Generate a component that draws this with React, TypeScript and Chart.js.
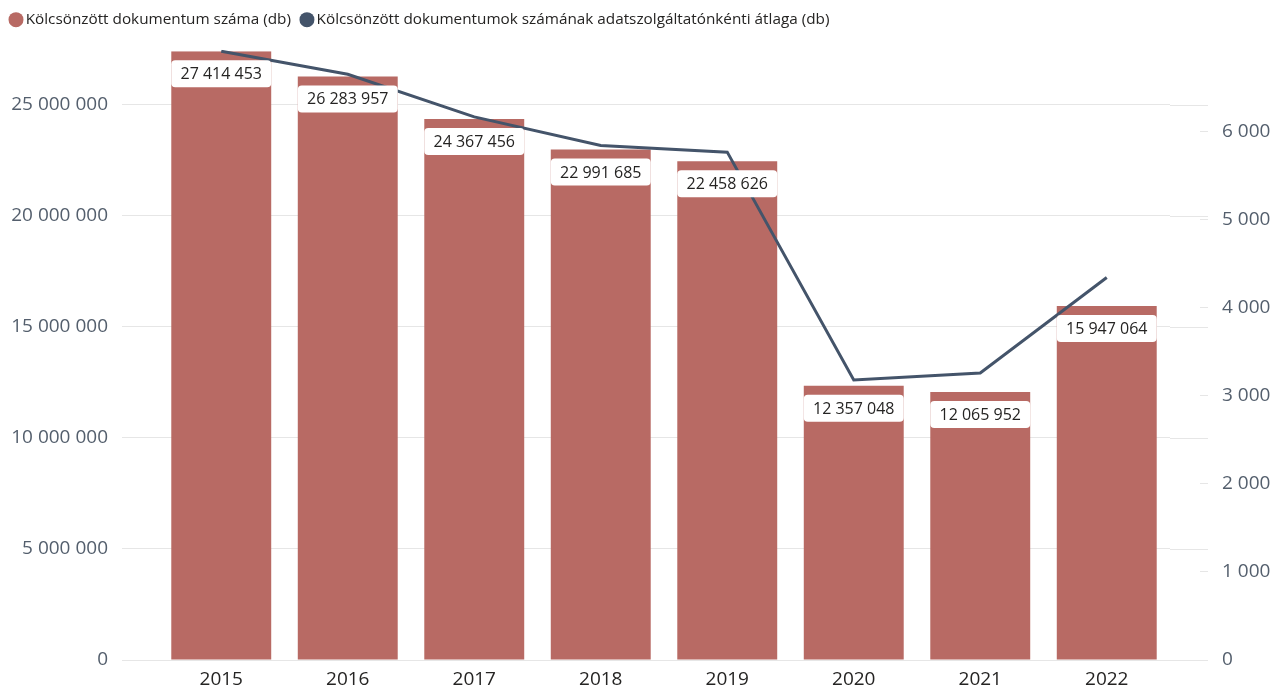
import React, { useEffect, useRef } from "react";
import { Chart, registerables } from "chart.js";

Chart.register(...registerables);

const years = ["2015", "2016", "2017", "2018", "2019", "2020", "2021", "2022"];
const loanedDocs = [27414453, 26283957, 24367456, 22991685, 22458626, 12357048, 12065952, 15947064];
const avgPerProvider = [6906, 6645, 6162, 5838, 5762, 3178, 3257, 4339];
const seriesNames = [
  "Kölcsönzött dokumentum száma (db)",
  "Kölcsönzött dokumentumok számának adatszolgáltatónkénti átlaga (db)",
];
const leftStep = 5000000;
const rightStep = 1000;

const FONT = "'Segoe UI', 'Open Sans', 'Noto Sans', sans-serif";
const BAR_COLOR = "#B86A64";
const LINE_COLOR = "#44546A";
const GRID_COLOR = "#E6E6E6";
const AXIS_TEXT = "#545F6D";
const DARK_TEXT = "#252423";
const CLEAR = "rgba(0,0,0,0)";

const fmt = (v: number) => Math.round(v).toString().replace(/\B(?=(\d{3})+(?!\d))/g, " ");

const stepTicks = (step: number) => (scale: any) => {
  const ticks: any[] = [];
  for (let v = 0; v <= scale.max + 1e-9; v += step) ticks.push({ value: v });
  scale.ticks = ticks;
};

const legendSpacer = {
  id: "legendSpacer",
  beforeInit(chart: any) {
    const legend = chart.legend;
    if (!legend) return;
    const orig = legend.fit;
    legend.fit = function () {
      orig.call(this);
      this.height += 14;
    };
  },
};

const gridExtension = {
  id: "gridExtension",
  beforeDatasetsDraw(chart: any) {
    const ys = chart.scales.y;
    const y1 = chart.scales.y1;
    const ctx = chart.ctx;
    ctx.save();
    ctx.strokeStyle = GRID_COLOR;
    ctx.lineWidth = 1;
    ctx.beginPath();
    ys.ticks.forEach((t: any) => {
      const py = Math.round(ys.getPixelForValue(t.value)) + 0.5;
      ctx.moveTo(chart.chartArea.right, py);
      ctx.lineTo(y1.left + 38, py);
    });
    ctx.stroke();
    ctx.restore();
  },
};

const barLabels = {
  id: "barLabels",
  afterDatasetsDraw(chart: any) {
    const meta = chart.getDatasetMeta(0);
    const ctx = chart.ctx;
    ctx.save();
    meta.data.forEach((el: any, i: number) => {
      const w = el.width;
      const x = el.x - w / 2;
      const y = el.y + 9;
      const h = 27;
      ctx.fillStyle = "#FFFFFF";
      ctx.beginPath();
      (ctx as any).roundRect(x, y, w, h, 4);
      ctx.fill();
      ctx.fillStyle = DARK_TEXT;
      ctx.font = `16px ${FONT}`;
      ctx.textAlign = "center";
      ctx.textBaseline = "middle";
      ctx.fillText(fmt(loanedDocs[i]), el.x, y + h / 2 + 1);
    });
    ctx.restore();
  },
};

export default function App() {
  const canvasRef = useRef<HTMLCanvasElement | null>(null);

  useEffect(() => {
    document.body.style.margin = "0";
    if (!canvasRef.current) return;
    const chart = new Chart(canvasRef.current, {
      type: "bar",
      data: {
        labels: years,
        datasets: [
          {
            type: "bar",
            label: seriesNames[0],
            data: loanedDocs,
            backgroundColor: BAR_COLOR,
            borderWidth: 0,
            yAxisID: "y",
            categoryPercentage: 1,
            barPercentage: 0.79,
            order: 1,
          } as any,
          {
            type: "line",
            label: seriesNames[1],
            data: avgPerProvider,
            borderColor: LINE_COLOR,
            backgroundColor: LINE_COLOR,
            borderWidth: 3,
            pointRadius: 0,
            tension: 0,
            yAxisID: "y1",
            order: 0,
          } as any,
        ],
      },
      options: {
        animation: false,
        responsive: true,
        maintainAspectRatio: false,
        layout: { padding: { top: -2, left: 0, right: 0, bottom: 0 } },
        plugins: {
          tooltip: { enabled: false },
          legend: {
            position: "top",
            align: "start",
            labels: {
              usePointStyle: true,
              boxWidth: 4,
              boxHeight: 10.6,
              padding: 14,
              color: DARK_TEXT,
              font: { family: FONT, size: 15.3 },
              sort: (a: any, b: any) => a.datasetIndex - b.datasetIndex,
              generateLabels: (chart: any) =>
                (Chart.defaults.plugins.legend.labels as any)
                  .generateLabels(chart)
                  .map((l: any) => ({ ...l, lineWidth: 0, strokeStyle: CLEAR, pointStyle: "circle" })),
            },
          },
        },
        scales: {
          x: {
            grid: { display: false, drawTicks: false },
            border: { display: false },
            ticks: { color: DARK_TEXT, font: { family: FONT, size: 19 }, padding: 8 },
            afterFit: (s: any) => {
              s.height = 28;
            },
          },
          y: {
            position: "left",
            bounds: "data",
            beginAtZero: true,
            grid: {
              tickLength: 36,
              drawTicks: true,
              color: GRID_COLOR,
              tickColor: GRID_COLOR,
            },
            border: { display: false },
            ticks: {
              color: AXIS_TEXT,
              font: { family: FONT, size: 19 },
              padding: 14,
              callback: (v: any) => fmt(Number(v)),
            },
            afterBuildTicks: stepTicks(leftStep),
            afterFit: (s: any) => {
              s.width = 158;
            },
          },
          y1: {
            position: "right",
            bounds: "data",
            beginAtZero: true,
            grid: {
              drawOnChartArea: false,
              tickLength: 38,
              tickColor: GRID_COLOR,
              tickBorderDash: [0, 30, 8, 200],
            } as any,
            border: { display: false },
            ticks: {
              color: AXIS_TEXT,
              font: { family: FONT, size: 19 },
              padding: 14,
              callback: (v: any) => fmt(Number(v)),
            },
            afterBuildTicks: stepTicks(rightStep),
            afterFit: (s: any) => {
              s.width = 115;
            },
          },
        },
      },
      plugins: [legendSpacer, gridExtension, barLabels],
    });
    return () => chart.destroy();
  }, []);

  return (
    <div style={{ width: "1285px", height: "688px", position: "relative" }}>
      <canvas ref={canvasRef} />
    </div>
  );
}
